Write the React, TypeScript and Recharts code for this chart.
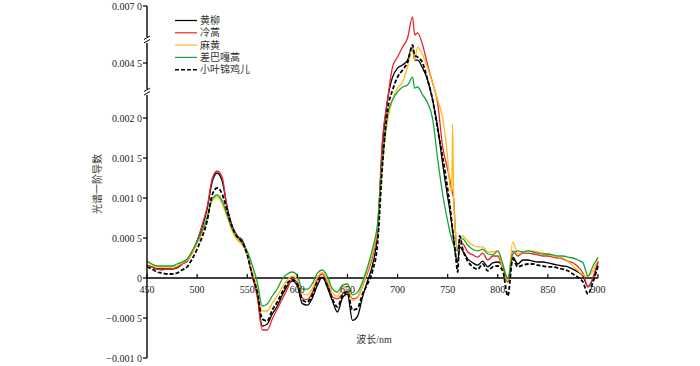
import React from 'react';
import { LineChart, Line, XAxis, YAxis, ReferenceLine, Legend, Label } from 'recharts';

// wavelength (nm)
const wavelengths = [
  450, 455, 460, 465, 470, 475, 480, 485, 490, 495,
  500, 505, 510, 515, 520, 525, 530, 535, 540, 545,
  550, 555, 560, 565, 570, 575, 580, 585, 590, 595,
  600, 605, 610, 615, 620, 625, 630, 635, 640, 645,
  650, 655, 660, 665, 670, 675, 680, 685, 690, 695,
  700, 705, 710, 715, 717, 720, 725, 730, 735, 740,
  745, 750, 752, 754, 755, 756, 758, 760, 762, 765,
  770, 775, 780, 785, 790, 795, 800, 805, 810, 815,
  820, 825, 830, 835, 840, 845, 850, 855, 860, 865,
  870, 875, 880, 885, 890, 895, 900,
];

// first derivative of spectra, in units of 1e-4
const huangliu = [
  1.625, 1.375, 1.125, 1.125, 1.125, 1.125, 1.25, 1.75, 2.125, 3.125,
  4.625, 6.375, 8.625, 12.0, 13.125, 12.125, 8.875, 6.5, 5.25, 4.75,
  3.0, 0.5, -2.0, -6.0, -5.75, -4.5, -3.5, -2.125, -1.0, -0.4,
  -1.0, -3.2, -3.4, -2.5, -0.9, 0.1, -1.2, -2.875, -4.25, -2.5,
  -2.0, -5.3, -4.8, -2.4, -0.375, 1.625, 5.5, 16.75, 28.2, 38.6,
  42.7, 44.1, 46.3, 52.0, 46.3, 46.3, 42.7, 37.3, 28.2, 18.9,
  14.25, 10.1, 8.6, 6.75, 5.9, 4.9, 2.75, 2.0, 3.9, 3.4,
  2.4, 1.9, 1.6, 2.1, 1.4, 1.9, 2.0, 1.4, -0.5, 2.6,
  1.75, 2.25, 2.25, 2.1, 2.0, 2.0, 1.9, 1.75, 1.6, 1.5,
  1.4, 1.1, 0.75, 0.25, -1.1, -0.1, 2.0,
];
const lenghao = [
  1.625, 1.375, 1.125, 1.0, 1.125, 1.125, 1.375, 1.75, 2.125, 3.25,
  4.625, 6.625, 8.875, 12.375, 13.375, 12.625, 8.625, 6.5, 5.25, 4.625,
  2.875, 0.25, -2.375, -6.5, -6.5, -5.125, -3.875, -2.625, -1.375, -0.1,
  -0.6, -2.5, -2.7, -1.8, -0.2, 0.5, -0.6, -2.375, -2.6, -2.0,
  -1.6, -2.6, -2.4, -1.0, 0.625, 2.625, 6.125, 17.4, 28.2, 43.2,
  47.6, 52.0, 56.0, 65.2, 57.3, 58.2, 52.9, 44.1, 35.9, 26.8,
  16.4, 13.6, 12.4, 11.1, 10.5, 9.9, 5.1, 3.6, 4.25, 4.25,
  3.25, 2.9, 2.6, 3.1, 2.25, 2.75, 2.75, 1.1, -0.4, 3.4,
  2.75, 3.1, 3.1, 3.0, 2.9, 2.75, 2.75, 2.6, 2.5, 2.4,
  2.1, 1.9, 1.4, 0.6, -1.1, 0.1, 2.1,
];
const mahuang = [
  2.0, 1.625, 1.375, 1.375, 1.375, 1.375, 1.5, 1.875, 2.25, 3.0,
  4.375, 5.625, 7.375, 9.625, 10.125, 9.25, 7.625, 5.875, 4.75, 4.125,
  2.875, 0.875, -1.375, -4.125, -4.125, -3.125, -2.25, -1.125, -0.25, 0.25,
  -0.25, -2.0, -2.1, -1.3, 0.1, 0.7, -0.3, -1.875, -2.3, -1.3,
  -1.1, -2.8, -2.5, -1.0, 0.875, 3.0, 6.375, 14.25, 19.6, 28.2,
  33.6, 36.4, 43.2, 52.0, 46.3, 52.0, 48.5, 42.7, 35.9, 28.2,
  20.0, 14.9, 11.75, 10.75, 19.25, 9.9, 5.5, 3.4, 4.9, 5.25,
  4.6, 4.1, 3.9, 3.9, 3.25, 3.25, 3.4, 1.1, -0.4, 4.5,
  3.0, 3.25, 3.4, 3.4, 3.25, 3.1, 3.0, 2.75, 2.6, 2.5,
  2.1, 1.5, 0.9, 0.4, 0.25, 0.9, 2.4,
];
const chabagahao = [
  2.125, 1.75, 1.5, 1.5, 1.5, 1.5, 1.75, 2.0, 2.375, 3.375,
  4.5, 5.875, 7.625, 9.875, 10.375, 9.625, 7.875, 6.125, 5.125, 4.375,
  3.375, 1.625, -0.5, -3.5, -3.25, -2.25, -1.375, -0.125, 0.5, 0.75,
  0.3, -1.4, -1.4, -0.7, 0.6, 1.0, 0.2, -1.375, -1.75, -0.9,
  -0.75, -2.1, -1.8, -0.5, 1.375, 3.625, 6.75, 14.9, 21.4, 28.2,
  31.8, 34.1, 35.0, 38.6, 33.6, 34.1, 30.5, 26.8, 19.9, 14.9,
  10.5, 7.1, 5.9, 4.9, 4.5, 4.1, 3.6, 3.4, 4.9, 4.9,
  4.1, 3.6, 3.4, 3.6, 3.0, 2.9, 3.4, 1.75, -0.1, 3.0,
  3.4, 3.25, 3.4, 3.25, 3.1, 3.0, 3.0, 2.9, 2.75, 2.75,
  2.6, 2.5, 2.25, 1.9, 0.25, 1.5, 2.6,
];
const xiaoyejinjier = [
  1.375, 1.125, 0.75, 0.625, 0.5, 0.5, 0.625, 1.0, 1.375, 2.375,
  3.625, 5.125, 7.125, 10.375, 11.25, 10.5, 8.375, 6.375, 5.125, 4.5,
  2.875, 0.375, -1.75, -5.125, -5.375, -4.0, -3.0, -1.75, -0.625, -0.25,
  -0.7, -2.7, -3.0, -2.1, -0.4, 0.1, -1.0, -2.625, -3.6, -2.2,
  -1.75, -4.0, -3.8, -2.0, -0.75, 0.875, 4.25, 14.25, 23.6, 32.7,
  38.6, 41.8, 45.4, 52.9, 48.5, 47.6, 45.0, 37.3, 28.2, 18.6,
  15.1, 11.1, 9.25, 7.1, 5.9, 4.9, 2.75, 0.75, 5.25, 3.6,
  2.1, 1.4, 1.1, 1.75, 0.9, 1.4, 1.5, 0.9, -2.25, 2.4,
  1.4, 1.6, 1.75, 1.75, 1.6, 1.5, 1.4, 1.4, 1.25, 1.1,
  0.9, 0.5, 0.1, -0.5, -2.0, -0.5, 1.5,
];

const seriesNames = ['黄柳', '冷蒿', '麻黄', '差巴嘎蒿', '小叶锦鸡儿'];
const seriesValues = [huangliu, lenghao, mahuang, chabagahao, xiaoyejinjier];
const seriesColors = ['#000000', '#e8262e', '#fdbb1c', '#17a33c', '#000000'];
const seriesDash = [undefined, undefined, undefined, undefined, '4 2'];
const seriesWidth = [1.3, 1.3, 1.3, 1.3, 1.8];

const xTicks = [450, 500, 550, 600, 650, 700, 750, 800, 850, 900];
// y ticks in units of 1e-4 and their labels
const yTickValues = [-10, -5, 0, 5, 10, 15, 20, 45, 70];
const yTickLabels = ['−0.001 0', '−0.000 5', '0', '0.000 5', '0.001 0', '0.001 5', '0.002 0', '0.004 5', '0.007 0'];
const yBreakValues = [31.8, 55.1];

// broken-axis transform (real value in 1e-4 -> plotted value)
function toDisplay(u: number): number {
  if (u <= 20) return u;
  if (u <= 45) return 20 + (u - 20) * 0.275;
  return 26.875 + (u - 45) * 0.285;
}

const D_MIN = toDisplay(-10);
const D_MAX = toDisplay(70);
const PLOT_LEFT = 147;
const PLOT_TOP = 6;
const PLOT_H = 352;
const ZERO_Y = PLOT_TOP + (PLOT_H * D_MAX) / (D_MAX - D_MIN);

const data = wavelengths.map((w, i) => {
  const row: Record<string, number> = { w };
  seriesValues.forEach((arr, k) => {
    row['s' + k] = toDisplay(arr[i]);
  });
  return row;
});

const yTicksDisplay = yTickValues.map(toDisplay);
const yBreaksDisplay = yBreakValues.map(toDisplay);
const allYTicks = [...yTicksDisplay, ...yBreaksDisplay].sort((a, b) => a - b);

const NUM_FONT = "'Liberation Serif', 'Noto Sans CJK SC', serif";

const YTick = (props: any) => {
  const { y, payload } = props;
  const v = payload.value as number;
  const bi = yBreaksDisplay.findIndex((b) => Math.abs(b - v) < 1e-6);
  if (bi >= 0) {
    return (
      <g>
        <rect x={PLOT_LEFT - 3} y={y - 3} width={6} height={6} fill="#fff" />
        <line x1={PLOT_LEFT - 3} y1={y - 0.5} x2={PLOT_LEFT + 3} y2={y - 4} stroke="#000" strokeWidth={1} />
        <line x1={PLOT_LEFT - 3} y1={y + 3} x2={PLOT_LEFT + 3} y2={y - 0.5} stroke="#000" strokeWidth={1} />
      </g>
    );
  }
  const ti = yTicksDisplay.findIndex((t) => Math.abs(t - v) < 1e-6);
  return (
    <g>
      <line x1={PLOT_LEFT - 4} y1={y} x2={PLOT_LEFT} y2={y} stroke="#000" strokeWidth={1.2} />
      <text x={PLOT_LEFT - 5} y={y + 3.5} textAnchor="end" fontSize={10} fontFamily={NUM_FONT} fill="#222">
        {ti >= 0 ? yTickLabels[ti] : ''}
      </text>
    </g>
  );
};

const XTick = (props: any) => {
  const { x, payload } = props;
  return (
    <g>
      <line x1={x} y1={ZERO_Y - 4} x2={x} y2={ZERO_Y} stroke="#000" strokeWidth={1.2} />
      <text x={x} y={ZERO_Y + 15} textAnchor="middle" fontSize={10} fontFamily={NUM_FONT} fill="#222">
        {payload.value}
      </text>
    </g>
  );
};

const YLabelContent = () => (
  <text
    x={101}
    y={184}
    transform="rotate(-90 101 184)"
    textAnchor="middle"
    fontSize={10}
    fontFamily={NUM_FONT}
    fill="#333"
  >
    光谱一阶导数
  </text>
);

const XLabelContent = () => (
  <text x={374} y={343} textAnchor="middle" fontSize={10} fontFamily={NUM_FONT} fill="#333">
    波长/nm
  </text>
);

const LegendBox = () => (
  <svg width={110} height={70} style={{ display: 'block' }}>
    {seriesNames.map((n, i) => {
      const y = 7.5 + i * 12.3;
      return (
        <g key={n}>
          <line
            x1={3}
            x2={25}
            y1={y}
            y2={y}
            stroke={seriesColors[i]}
            strokeWidth={seriesDash[i] ? 1.5 : 1.2}
            strokeDasharray={seriesDash[i]}
          />
          <text x={28} y={y + 3.5} fontSize={10} fontFamily={NUM_FONT} fill="#333">
            {n}
          </text>
        </g>
      );
    })}
  </svg>
);

export default function App() {
  return (
    <div style={{ position: 'absolute', left: 0, top: 0, width: 700, height: 366, background: '#fff' }}>
      <LineChart
        width={700}
        height={366}
        data={data}
        margin={{ top: PLOT_TOP, right: 102, bottom: 0, left: 67 }}
      >
        <XAxis
          dataKey="w"
          type="number"
          domain={[450, 900]}
          ticks={xTicks}
          interval={0}
          axisLine={false}
          tickLine={false}
          height={8}
          tick={<XTick />}
        >
          <Label content={<XLabelContent />} />
        </XAxis>
        <YAxis
          type="number"
          domain={[D_MIN, D_MAX]}
          ticks={allYTicks}
          interval={0}
          allowDataOverflow
          width={80}
          tickLine={false}
          axisLine={{ stroke: '#000', strokeWidth: 1.4 }}
          tick={<YTick />}
        >
          <Label content={<YLabelContent />} />
        </YAxis>
        <ReferenceLine y={0} stroke="#000" strokeWidth={1.3} />
        {seriesNames.map((n, k) => (
          <Line
            key={n}
            name={n}
            dataKey={'s' + k}
            type="monotone"
            stroke={seriesColors[k]}
            strokeWidth={seriesWidth[k]}
            strokeDasharray={seriesDash[k]}
            dot={false}
            activeDot={false}
            isAnimationActive={false}
          />
        ))}
        <Legend
          layout="vertical"
          align="center"
          verticalAlign="middle"
          wrapperStyle={{ left: 172, top: 13, width: 110 }}
          content={() => <LegendBox />}
        />
      </LineChart>
    </div>
  );
}
